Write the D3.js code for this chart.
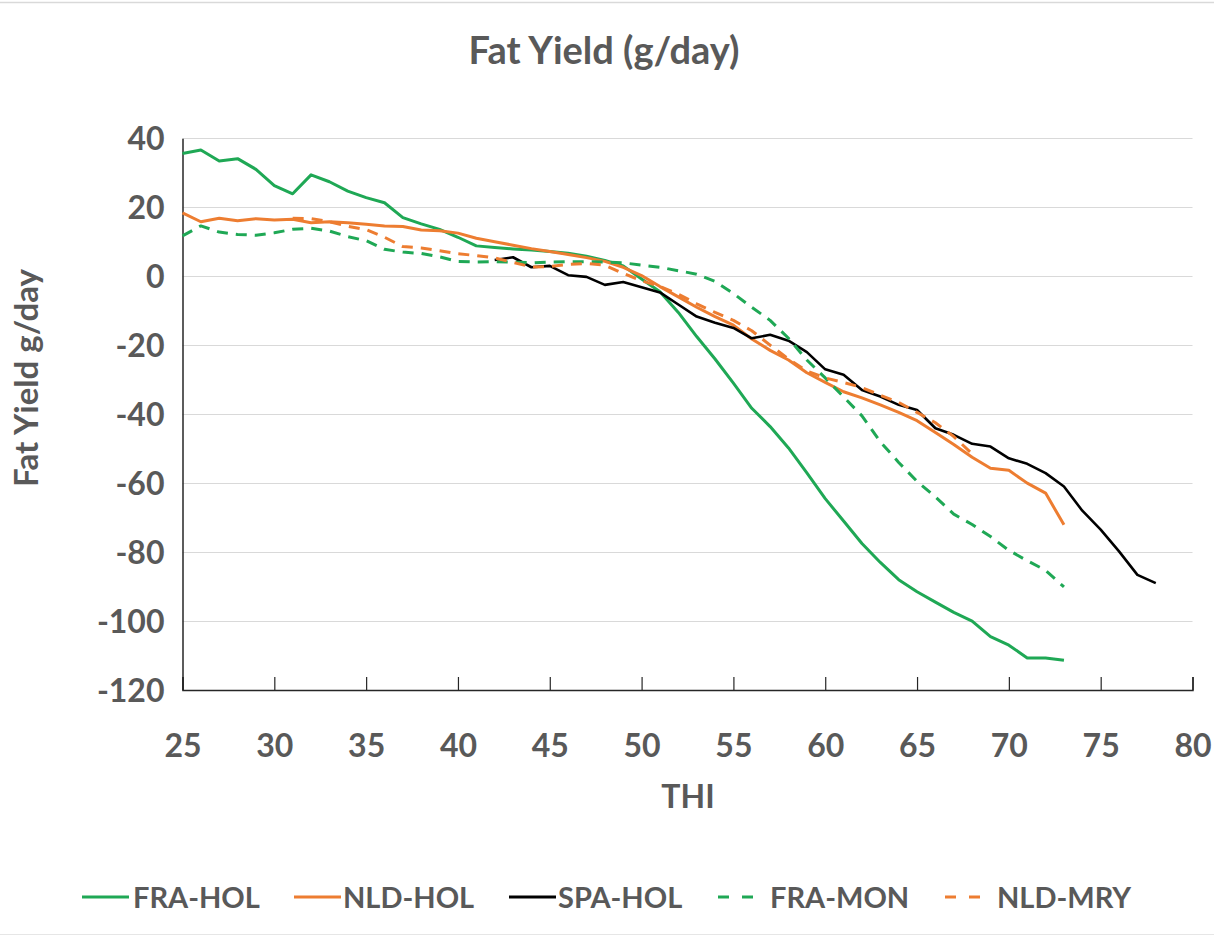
<!DOCTYPE html>
<html>
<head>
<meta charset="utf-8">
<script src="https://cdn.jsdelivr.net/npm/d3@7/dist/d3.min.js"></script>
<style>
  html, body { margin: 0; padding: 0; background: #fff; }
  svg { display: block; }
  text { font-family: Lato, "Open Sans", sans-serif; font-weight: bold; fill: #595959; }
</style>
</head>
<body>
<svg id="chart" width="1214" height="937"></svg>
<script>
// ---- Data ----
const thiMain = [25,26,27,28,29,30,31,32,33,34,35,36,37,38,39,40,41,42,43,44,45,46,47,48,49,50,51,52,53,54,55,56,57,58,59,60,61,62,63,64,65,66,67,68,69,70,71,72,73];
const thiSPA  = [42,43,44,45,46,47,48,49,50,51,52,53,54,55,56,57,58,59,60,61,62,63,64,65,66,67,68,69,70,71,72,73,74,75,76,77,78];
const thiMRY  = [31,32,33,34,35,36,37,38,39,40,41,42,43,44,45,46,47,48,49,50,51,52,53,54,55,56,57,58,59,60,61,62,63,64,65,66,67,68];

const fraHol = [35.6,36.6,33.4,34.1,31.0,26.3,23.9,29.4,27.4,24.7,
                22.8,21.3,17.0,15.2,13.6,11.3,8.8,8.3,7.9,7.6,
                7.2,6.7,5.8,4.6,3.0,-0.8,-4.5,-10.5,-17.5,-24.0,
                -31.0,-38.3,-43.6,-49.8,-57.0,-64.5,-71.0,-77.5,-83.0,-88.0,
                -91.5,-94.5,-97.5,-100.0,-104.5,-107.0,-110.7,-110.7,-111.4];
const nldHol = [18.4,15.8,16.8,16.1,16.7,16.3,16.5,15.5,15.8,15.5,
                15.1,14.6,14.4,13.4,13.2,12.5,11.0,10.0,9.0,8.0,
                7.2,6.3,5.4,4.3,2.6,0.2,-3.0,-6.0,-9.0,-11.7,
                -14.2,-18.2,-21.5,-24.3,-28.0,-30.8,-33.5,-35.3,-37.3,-39.5,
                -41.9,-45.3,-48.8,-52.5,-55.7,-56.3,-60.0,-62.9,-72.1];
const spaHol = [4.7,5.5,2.6,3.0,0.3,-0.2,-2.5,-1.7,-3.2,-4.7,
                -8.2,-11.7,-13.5,-15.0,-18.0,-17.0,-18.7,-22.0,-27.0,-28.6,
                -33.0,-34.9,-37.3,-38.8,-44.1,-46.0,-48.6,-49.4,-52.8,-54.4,
                -57.1,-61.0,-68.0,-73.5,-79.8,-86.6,-89.0];
const fraMon = [11.7,14.6,12.8,12.1,11.9,12.6,13.6,13.9,13.1,11.5,
                10.3,7.8,7.0,6.6,5.6,4.3,4.1,4.2,4.1,3.9,
                4.1,4.2,4.2,4.1,3.9,3.2,2.6,1.6,0.6,-1.5,
                -5.0,-9.0,-12.8,-18.0,-24.3,-29.5,-35.0,-40.5,-48.0,-54.0,
                -59.5,-64.0,-69.0,-72.0,-75.5,-79.5,-82.5,-85.3,-90.1];
const nldMry = [16.8,16.7,15.8,14.5,13.5,11.3,8.6,8.2,7.4,6.5,
                6.0,5.3,4.0,2.7,2.8,3.4,3.7,3.2,0.8,-1.3,
                -3.0,-5.2,-8.0,-10.5,-12.8,-15.8,-20.0,-24.0,-27.5,-29.5,
                -30.8,-32.3,-34.5,-36.6,-39.5,-42.5,-46.5,-51.5];

const seriesNames = ["FRA-HOL","NLD-HOL","SPA-HOL","FRA-MON","NLD-MRY"];
const xTicks = [25,30,35,40,45,50,55,60,65,70,75,80];
const yTicks = [40,20,0,-20,-40,-60,-80,-100,-120];

const titleText = "Fat Yield (g/day)";
const xTitle = "THI";
const yTitle = "Fat Yield g/day";

// ---- Styles ----
const GREEN = "#1fa855", ORANGE = "#ed7d31", BLACK = "#000000";
const series = [
  {name: seriesNames[0], x: thiMain, y: fraHol, color: GREEN,  dash: null},
  {name: seriesNames[1], x: thiMain, y: nldHol, color: ORANGE, dash: null},
  {name: seriesNames[2], x: thiSPA,  y: spaHol, color: BLACK,  dash: null},
  {name: seriesNames[3], x: thiMain, y: fraMon, color: GREEN,  dash: "11,8"},
  {name: seriesNames[4], x: thiMRY,  y: nldMry, color: ORANGE, dash: "11,8"}
];

const svg = d3.select("#chart");

// outer frame lines (chart area border)
svg.append("line").attr("x1",0).attr("x2",1214).attr("y1",2.5).attr("y2",2.5).attr("stroke","#d9d9d9").attr("stroke-width",1.5);
svg.append("line").attr("x1",0).attr("x2",1214).attr("y1",934.5).attr("y2",934.5).attr("stroke","#e6e6e6").attr("stroke-width",1);

const x = d3.scaleLinear().domain([25,80]).range([182.5,1192.5]);
const y = d3.scaleLinear().domain([-120,40]).range([690,138.3]);

// gridlines
svg.append("g")
  .selectAll("line").data(yTicks.filter(d => d !== -120)).join("line")
  .attr("x1", x(25)).attr("x2", x(80))
  .attr("y1", d => Math.round(y(d)) + 0.5).attr("y2", d => Math.round(y(d)) + 0.5)
  .attr("stroke", "#d9d9d9").attr("stroke-width", 1);

// y axis
const yAxis = d3.axisLeft(y).tickValues(yTicks).tickSize(0).tickPadding(18).tickFormat(d => String(d));
const gy = svg.append("g").attr("transform", `translate(${x(25)},0)`).call(yAxis);
gy.select(".domain").attr("stroke", "#262626").attr("stroke-width", 1.5);
gy.selectAll("text").style("font-size", "32px").attr("fill", "#595959").attr("dy", "0.36em").attr("x", -18);

// x axis with inside ticks
const xAxis = d3.axisBottom(x).tickValues(xTicks).tickSize(-13).tickPadding(0).tickFormat(d => String(d));
const gx = svg.append("g").attr("transform", `translate(0,${y(-120)})`).call(xAxis);
gx.select(".domain").attr("stroke", "#262626").attr("stroke-width", 1.5);
gx.selectAll(".tick line").attr("stroke", "#262626").attr("stroke-width", 1.2);
gx.selectAll("text").style("font-size", "32px").attr("fill", "#595959").attr("y", 67).attr("dy", 0);

// lines
const lineGen = d3.line().x(d => x(d[0])).y(d => y(d[1]));
series.forEach(s => {
  const pts = s.x.map((t, i) => [t, s.y[i]]);
  svg.append("path")
    .datum(pts)
    .attr("d", lineGen)
    .attr("fill", "none")
    .attr("stroke", s.color)
    .attr("stroke-width", s.color === BLACK ? 2.6 : 3)
    .attr("stroke-linejoin", "round")
    .attr("stroke-dasharray", s.dash);
});

// titles
svg.append("text").attr("x", 604).attr("y", 64).attr("text-anchor", "middle")
  .style("font-size", "38px").text(titleText);
svg.append("text").attr("x", 688).attr("y", 808).attr("text-anchor", "middle")
  .style("font-size", "32px").text(xTitle);
svg.append("text").attr("transform", "translate(38,378) rotate(-90)").attr("text-anchor", "middle")
  .style("font-size", "33px").text(yTitle);

// legend
const legendX = [82, 294, 509, 718, 945];
const legendTextX = [133, 343, 558, 770, 997];
const legendY = 897;
series.forEach((s, i) => {
  svg.append("line")
    .attr("x1", legendX[i]).attr("x2", legendX[i] + (s.dash ? 36 : 47))
    .attr("y1", legendY).attr("y2", legendY)
    .attr("stroke", s.color).attr("stroke-width", 3)
    .attr("stroke-dasharray", s.dash ? "11,13" : null);
  svg.append("text").attr("x", legendTextX[i]).attr("y", legendY + 11)
    .style("font-size", "29px").text(s.name);
});
</script>
</body>
</html>
